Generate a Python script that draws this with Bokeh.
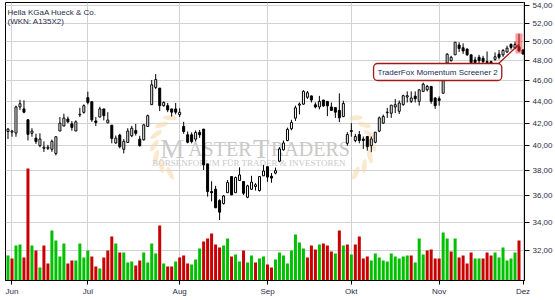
import math
from bokeh.plotting import figure
from bokeh.models import ColumnDataSource, Range1d, FixedTicker, CustomJSTickFormatter, Label, LinearScale
from bokeh.core.properties import value
from bokeh.embed import file_html
from bokeh.resources import INLINE

# ---------------- data ----------------
title_line1 = "Hella KGaA Hueck & Co."
title_line2 = "(WKN: A135X2)"
annotation_text = "TraderFox Momentum Screener 2"

month_pos = [1, 20, 43, 65, 86, 108, 129]          # trading-day index of first day of month
month_labels = ["Jun", "Jul", "Aug", "Sep", "Okt", "Nov", "Dez"]
price_ticks = [32, 34, 36, 38, 40, 42, 44, 46, 48, 50, 52, 54]

opens = [41.26, 41.20, 41.12, 43.48, 43.30, 42.30, 41.10, 40.68, 40.03, 39.80,
         39.80, 39.72, 39.37, 41.30, 41.74, 42.37, 41.94, 41.30, 42.75, 42.98,
         44.35, 43.97, 42.20, 42.55, 43.30, 42.03, 41.82, 40.26, 40.94, 39.72,
         40.30, 40.88, 41.35, 40.59, 40.53, 41.70, 43.69, 45.33, 45.27, 43.60,
         43.60, 43.30, 43.30, 42.77, 41.70, 40.97, 40.97, 40.59, 41.18, 41.47,
         38.50, 36.29, 36.47, 35.60, 35.37, 36.20, 37.47, 36.20, 37.16, 37.08,
         35.85, 36.47, 36.68, 36.37, 37.53, 38.27, 37.50, 37.75, 38.72, 39.67,
         40.47, 41.50, 42.45, 43.65, 43.74, 44.39, 44.52, 43.68, 43.48, 44.13,
         44.00, 43.48, 43.42, 43.16, 42.60, 40.23, 41.25, 40.47, 40.99, 40.60,
         40.82, 40.03, 40.32, 41.29, 42.00, 42.95, 42.90, 43.48, 43.08, 43.69,
         44.41, 44.00, 44.50, 44.00, 44.95, 45.10, 45.43, 44.32, 44.25, 44.77,
         47.75, 48.00, 48.60, 49.63, 49.34, 49.20, 48.60, 48.07, 48.35, 48.24,
         47.90, 47.90, 48.13, 48.67, 48.60, 48.90, 49.70, 49.30, 49.45, 49.10]
highs = [41.56, 41.40, 43.60, 44.15, 44.10, 42.37, 41.55, 41.06, 41.10, 40.40,
         40.10, 40.55, 40.80, 42.55, 42.86, 42.60, 42.18, 42.25, 43.40, 43.72,
         44.92, 43.97, 42.55, 43.50, 43.30, 43.00, 41.82, 40.90, 41.06, 40.60,
         41.55, 41.76, 41.94, 40.88, 41.94, 42.77, 46.06, 46.65, 45.27, 44.00,
         43.85, 43.30, 43.85, 43.36, 42.12, 41.26, 41.18, 41.35, 41.40, 41.47,
         38.50, 37.10, 36.74, 35.70, 36.03, 37.20, 37.47, 37.47, 38.22, 37.08,
         36.82, 37.53, 36.95, 37.47, 38.42, 38.27, 37.75, 38.20, 39.90, 40.47,
         41.60, 42.30, 43.60, 43.90, 45.06, 44.99, 44.55, 43.90, 44.52, 44.13,
         44.00, 43.90, 43.42, 44.76, 44.06, 41.20, 42.00, 41.05, 41.30, 40.82,
         40.82, 40.82, 41.20, 42.60, 42.78, 43.39, 43.65, 44.22, 44.09, 44.63,
         44.95, 44.95, 44.95, 45.16, 45.80, 45.58, 45.43, 44.41, 44.47, 47.55,
         48.77, 48.50, 49.93, 49.93, 49.80, 49.27, 48.60, 48.40, 48.60, 48.50,
         48.95, 48.00, 48.85, 49.10, 49.20, 49.55, 49.80, 50.00, 50.85, 49.20]
lows = [40.60, 40.80, 40.80, 43.20, 42.90, 40.47, 40.80, 40.18, 39.90, 39.50,
        39.65, 39.50, 39.20, 41.30, 41.74, 42.00, 41.33, 41.30, 42.55, 42.86,
        43.72, 42.12, 41.74, 42.55, 42.25, 42.00, 40.23, 40.18, 39.80, 39.37,
        40.30, 40.76, 40.90, 39.94, 40.47, 41.70, 43.69, 45.17, 43.10, 43.50,
        43.00, 42.60, 42.80, 42.55, 41.06, 40.23, 40.23, 40.38, 40.70, 38.00,
        35.90, 35.54, 35.05, 34.15, 35.30, 36.20, 36.03, 36.20, 37.16, 36.03,
        35.78, 36.42, 36.37, 36.29, 37.53, 37.05, 36.98, 37.65, 38.64, 39.61,
        40.41, 41.36, 42.20, 42.80, 43.68, 44.23, 43.90, 43.35, 43.26, 43.48,
        42.63, 43.10, 42.48, 42.09, 42.54, 40.03, 40.80, 40.32, 40.23, 39.75,
        39.61, 39.47, 40.23, 41.20, 41.94, 42.48, 42.48, 42.92, 42.83, 43.60,
        43.90, 43.85, 43.90, 43.60, 44.95, 44.95, 43.78, 43.30, 43.60, 44.77,
        47.63, 47.90, 48.60, 48.90, 48.70, 48.50, 47.55, 47.55, 47.75, 47.72,
        47.65, 47.55, 48.00, 48.13, 48.40, 48.80, 49.15, 49.20, 48.95, 48.60]
closes = [41.47, 41.30, 43.48, 43.78, 43.00, 41.00, 41.30, 40.38, 40.60, 39.90,
          39.90, 40.40, 40.80, 42.00, 42.46, 42.12, 41.62, 42.12, 42.80, 43.60,
          43.90, 42.30, 42.06, 43.30, 42.68, 42.28, 40.65, 40.68, 39.94, 40.40,
          41.30, 41.55, 41.10, 40.03, 41.85, 42.68, 45.59, 46.10, 43.60, 43.90,
          43.20, 43.00, 43.00, 42.98, 41.26, 40.32, 40.38, 41.18, 40.97, 38.42,
          36.29, 36.20, 35.05, 34.73, 35.95, 37.00, 36.03, 37.40, 37.60, 36.16,
          36.74, 37.03, 36.82, 37.47, 37.92, 37.43, 37.35, 37.95, 39.75, 40.26,
          41.45, 42.06, 43.40, 43.75, 44.96, 44.82, 44.13, 43.48, 44.00, 43.58,
          43.58, 43.16, 43.00, 42.48, 43.80, 40.99, 41.35, 40.82, 40.47, 40.47,
          39.94, 40.61, 41.20, 42.48, 42.60, 43.00, 43.65, 43.69, 43.85, 44.54,
          44.54, 44.32, 44.25, 45.10, 45.65, 45.43, 44.00, 43.60, 44.09, 47.40,
          48.67, 48.35, 49.93, 49.27, 49.00, 48.60, 47.80, 47.80, 48.00, 47.90,
          47.80, 47.65, 48.40, 48.35, 49.06, 49.30, 49.38, 49.70, 49.00, 48.70]
volumes = [25, 22, 35, 36, 23, 112, 35, 30, 13, 35,
           17, 50, 40, 24, 37, 17, 20, 20, 37, 23,
           30, 24, 14, 12, 23, 30, 44, 37, 28, 28,
           18, 19, 15, 20, 28, 18, 37, 27, 55, 17,
           14, 14, 19, 23, 25, 17, 16, 21, 32, 39,
           42, 47, 36, 33, 35, 42, 24, 26, 19, 30,
           18, 25, 18, 22, 24, 16, 13, 21, 28, 25,
           17, 30, 46, 38, 32, 23, 35, 31, 36, 37,
           35, 29, 27, 50, 35, 36, 26, 36, 44, 22,
           24, 20, 27, 23, 20, 19, 27, 24, 22, 24,
           25, 25, 18, 42, 26, 30, 31, 22, 22, 48,
           42, 29, 42, 23, 25, 17, 28, 22, 22, 22,
           28, 25, 28, 23, 33, 20, 22, 28, 40, 0]
vol_up = [1, 0, 1, 1, 0, 0, 1, 0, 1, 0,
          0, 1, 1, 1, 1, 0, 0, 1, 1, 1,
          1, 0, 0, 1, 0, 0, 0, 1, 0, 1,
          1, 1, 0, 0, 1, 1, 1, 1, 0, 1,
          0, 0, 1, 0, 0, 0, 1, 1, 1, 0,
          0, 0, 0, 0, 1, 1, 0, 1, 1, 0,
          1, 1, 0, 1, 1, 0, 0, 1, 1, 1,
          1, 1, 1, 1, 1, 0, 0, 0, 1, 0,
          0, 0, 1, 0, 1, 0, 1, 0, 0, 0,
          0, 1, 1, 1, 1, 1, 1, 1, 1, 1,
          1, 0, 1, 1, 1, 0, 0, 0, 0, 1,
          1, 0, 1, 0, 0, 0, 0, 1, 1, 0,
          0, 0, 1, 1, 1, 1, 1, 1, 0, 0]
highlight_day = 128

# ---------------- layout helpers (positions only) ----------------
W, H = 555, 300
FL, FT, FR, FB = 5, 2, 525, 280          # frame edges in page pixels
X_LO, X_HI = -0.625, 129.375
Y_LO, Y_HI = 30.01, 54.35


def px_x(px):
    return X_LO + (px - FL) * (X_HI - X_LO) / (FR - FL)


def px_y(py):
    return Y_LO * (Y_HI / Y_LO) ** ((FB - py) / (FB - FT))


GREEN = "#00c000"
RED = "#c80000"
TXT = "#2b2b4b"
FONT = "Liberation Sans"

n = len(closes)
idx = list(range(n))
src = ColumnDataSource(dict(
    x=idx, h=highs, l=lows,
    top=[max(o, c) for o, c in zip(opens, closes)],
    bot=[min(o, c) for o, c in zip(opens, closes)],
    fill=["white" if c >= o else "black" for o, c in zip(opens, closes)],
    vol=volumes,
    vcol=[GREEN if u else RED for u in vol_up],
))

p = figure(width=W, height=H, x_range=Range1d(X_LO, X_HI), y_range=Range1d(Y_LO, Y_HI),
           y_axis_type="log", y_axis_location="right", output_backend="svg",
           toolbar_location=None, min_border_left=FL, min_border_right=W - FR,
           min_border_top=FT, min_border_bottom=H - FB)
p.extra_y_ranges = {"vol": Range1d(0, FB - FT)}
p.extra_y_scales = {"vol": LinearScale()}
p.background_fill_color = "white"
p.border_fill_color = "white"
p.outline_line_color = "black"
p.outline_line_width = 1

yt = FixedTicker(ticks=price_ticks)
p.yaxis.ticker = yt
p.ygrid.ticker = yt
p.yaxis.formatter = CustomJSTickFormatter(code="return tick.toFixed(2).replace('.', ',');")
p.yaxis.major_tick_out = 5
p.yaxis.major_tick_in = 0
p.yaxis.minor_tick_line_color = None
p.yaxis.axis_line_color = "black"
p.yaxis.major_tick_line_color = "black"
p.yaxis.major_label_text_font = FONT
p.yaxis.major_label_text_font_size = "8px"
p.yaxis.major_label_text_color = TXT
p.yaxis.major_label_standoff = 3

xt = FixedTicker(ticks=month_pos)
p.xaxis.ticker = xt
p.xgrid.ticker = xt
p.xaxis.major_label_overrides = {m: lab for m, lab in zip(month_pos, month_labels)}
p.xaxis.major_tick_out = 4
p.xaxis.major_tick_in = 0
p.xaxis.minor_tick_line_color = None
p.xaxis.axis_line_color = "black"
p.xaxis.major_tick_line_color = "black"
p.xaxis.major_label_text_font = FONT
p.xaxis.major_label_text_font_size = "8px"
p.xaxis.major_label_text_color = TXT
p.xaxis.major_label_standoff = 2

for g in (p.xgrid, p.ygrid):
    g.grid_line_color = "#d2d2d2"
    g.grid_line_width = 1

# watermark: laurel branches (decoration) and logo text
LEAF = "#f5d7a6"
for cx, side in ((186, -1), (340, 1)):
    for k_ang in range(7):
        ang = math.radians(-60 + 20 * k_ang)
        lx = cx + side * 32 * math.cos(ang)
        ly = 145 + 32 * math.sin(ang)
        tilt = (math.pi / 2 + ang) * (-side) + side * 0.6
        p.ellipse(x=[px_x(lx)], y=[px_y(ly)], width=14, height=5, width_units="screen",
                  height_units="screen", angle=tilt, fill_color=LEAF, fill_alpha=0.55,
                  line_color=None)

WM = "#c9c9c9"
wm_base = px_y(148)
p.text(x=[px_x(160)], y=[wm_base], text=["M"], text_font=value("Liberation Serif"),
       text_font_size=value("27px"), text_color=WM, text_baseline="alphabetic")
p.text(x=[px_x(188)], y=[wm_base], text=["ASTER"], text_font=value("Liberation Serif"),
       text_font_size=value("20px"), text_color=WM, text_baseline="alphabetic")
p.text(x=[px_x(253)], y=[wm_base], text=["T"], text_font=value("Liberation Serif"),
       text_font_size=value("27px"), text_color=WM, text_baseline="alphabetic")
p.text(x=[px_x(271)], y=[wm_base], text=["RADERS"], text_font=value("Liberation Serif"),
       text_font_size=value("20px"), text_color=WM, text_baseline="alphabetic")
p.text(x=[px_x(152)], y=[px_y(162)], text=["BÖRSENFORUM FÜR TRADER & INVESTOREN"],
       text_font=value("Liberation Serif"), text_font_size=value("9px"), text_color=WM,
       text_baseline="alphabetic")

# volume
p.vbar(x="x", width=0.75, top="vol", bottom=0, source=src, y_range_name="vol",
       fill_color="vcol", line_color=None)

# candles
p.segment(x0="x", y0="l", x1="x", y1="h", source=src, line_color="black", line_width=1)
p.vbar(x="x", width=0.5, top="top", bottom="bot", source=src, fill_color="fill",
       line_color="black", line_width=1)

# highlight + annotation
p.quad(left=[highlight_day - 0.875], right=[highlight_day + 0.875],
       top=[px_y(33)], bottom=[px_y(53)], fill_color="#ff3030", fill_alpha=0.5, line_color=None)
p.segment(x0=[px_x(499)], y0=[px_y(63)], x1=[highlight_day], y1=[px_y(44)],
          line_color="#a01818", line_width=1.3)
p.add_layout(Label(x=px_x(438), y=px_y(71.5), text=annotation_text,
                   text_font=FONT, text_font_size="8px", text_color="#1a2a5a",
                   text_align="center", text_baseline="middle",
                   background_fill_color="white", border_line_color="#a01818",
                   border_line_width=1.3, border_radius=4, padding=4))

# title
p.add_layout(Label(x=px_x(7), y=px_y(7), text=title_line1, text_font=FONT,
                   text_font_size="8px", text_color=TXT, text_baseline="top"))
p.add_layout(Label(x=px_x(7), y=px_y(16), text=title_line2, text_font=FONT,
                   text_font_size="8px", text_color=TXT, text_baseline="top"))

open("out.html", "w").write(file_html(p, INLINE))
